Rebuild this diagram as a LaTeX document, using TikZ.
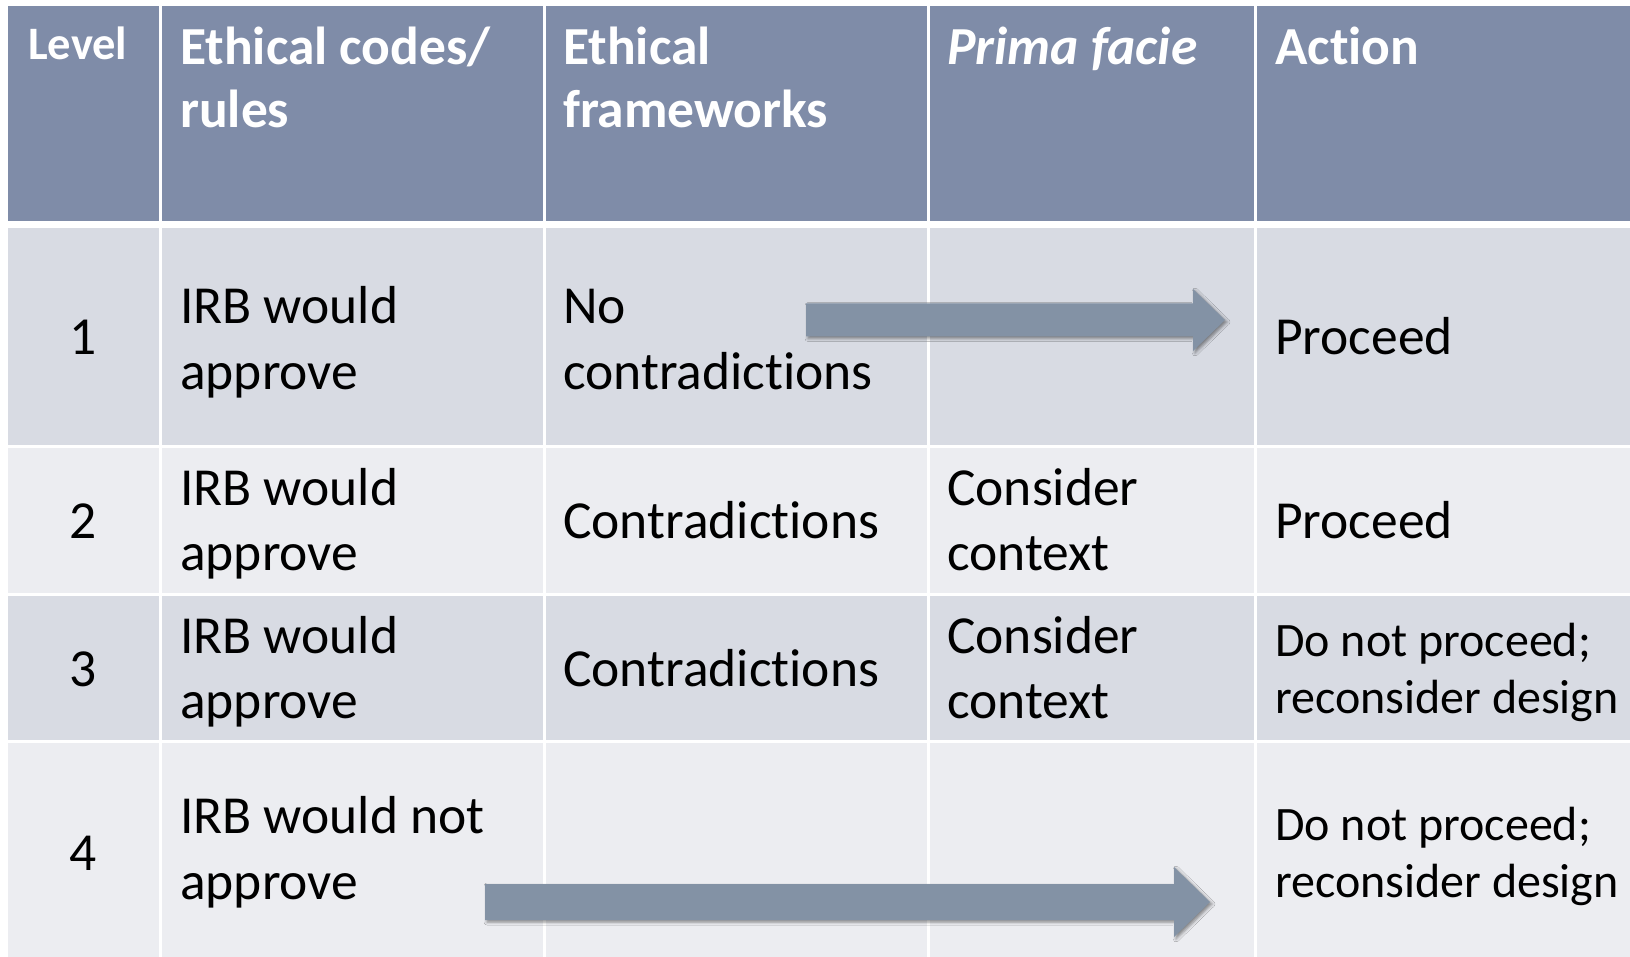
\documentclass[tikz,border=0pt]{standalone}
\usepackage{fontspec}
\setmainfont{Carlito}[Ligatures=NoCommon]
\usetikzlibrary{calc,shadows.blur}
\definecolor{hdr}{RGB}{127,140,168}
\definecolor{rowA}{RGB}{216,219,227}
\definecolor{rowB}{RGB}{236,237,241}
\definecolor{arr}{RGB}{131,146,165}
\tikzset{
  hcell/.style={fill=hdr},
  acell/.style={fill=rowA},
  bcell/.style={fill=rowB},
  htext/.style={inner sep=0pt,anchor=base west,align=left,text=white,font=\bfseries\fontsize{53.5}{63}\selectfont},
  ltext/.style={inner sep=0pt,anchor=base west,align=left,text=white,font=\bfseries\fontsize{46.5}{55}\selectfont},
  btext/.style={inner sep=0pt,anchor=base west,align=left,text=black,font=\fontsize{53.5}{65.5}\selectfont},
  ntext/.style={inner sep=0pt,anchor=base,text=black,font=\fontsize{53.5}{65.5}\selectfont},
  stext/.style={inner sep=0pt,anchor=base west,align=left,text=black,font=\fontsize{48}{57}\selectfont},
  blockarrow/.style={fill=arr,blur shadow={shadow xshift=2pt,shadow yshift=-2pt,shadow blur radius=3pt,shadow opacity=45}}
}
\begin{document}
\begin{tikzpicture}[x=1pt,y=-1pt]
\useasboundingbox (0,0) rectangle (1630,957);
\fill[white] (0,0) rectangle (1630,957);
% column fills per row
\foreach \xa/\xb in {7.5/159,162/543,546/927,930/1254,1257/1630}{
  \fill[hcell] (\xa,6.5) rectangle (\xb,221.5);
  \fill[acell] (\xa,228.5) rectangle (\xb,444.5);
  \fill[bcell] (\xa,447.5) rectangle (\xb,592.5);
  \fill[acell] (\xa,595.5) rectangle (\xb,739.5);
  \fill[bcell] (\xa,742.5) rectangle (\xb,957);
}
% header (base anchor = baseline of last line)
\node[ltext] (hL) at (28,60) {Level};
\node[htext] (h2) at (180,128) {Ethical codes/\\rules};
\node[htext] (h3) at (563,128) {Ethical\\frameworks};
\node[htext] (h4) at (947,65) {\itshape Prima facie};
\node[htext] (h5) at (1275,65) {Action};
% row 1
\node[ntext] (n1) at (83,355) {1};
\node[btext] (r1c2) at (180,389) {IRB would\\approve};
\node[btext] (r1c3) at (563,389) {No\\contradictions};
\node[btext] (r1c5) at (1275,355) {Proceed};
% row 2
\node[ntext] (n2) at (83,538) {2};
\node[btext] (r2c2) at (180,570.5) {IRB would\\approve};
\node[btext] (r2c3) at (563,538) {Contradictions};
\node[btext] (r2c4) at (947,570.5) {Consider\\context};
\node[btext] (r2c5) at (1275,538) {Proceed};
% row 3
\node[ntext] (n3) at (83,686) {3};
\node[btext] (r3c2) at (180,718.5) {IRB would\\approve};
\node[btext] (r3c3) at (563,686) {Contradictions};
\node[btext] (r3c4) at (947,718.5) {Consider\\context};
\node[stext] (r3c5) at (1275,713) {Do not proceed;\\reconsider design};
% row 4
\node[ntext] (n4) at (83,870) {4};
\node[btext] (r4c2) at (180,899) {IRB would not\\approve};
\node[stext] (r4c5) at (1275,897) {Do not proceed;\\reconsider design};
% arrows
\coordinate (a1s) at (806,320);
\coordinate (a1e) at (1225,320);
\coordinate (a2s) at (485,902);
\coordinate (a2e) at (1210,902);
\fill[blockarrow] ($(a1s)+(0,-16.5)$) -- ($(a1e)+(-32,-16.5)$) -- ($(a1e)+(-32,-31)$) -- (a1e)
  -- ($(a1e)+(-32,31)$) -- ($(a1e)+(-32,16.5)$) -- ($(a1s)+(0,16.5)$) -- cycle;
\fill[blockarrow] ($(a2s)+(0,-18)$) -- ($(a2e)+(-36,-18)$) -- ($(a2e)+(-36,-35)$) -- (a2e)
  -- ($(a2e)+(-36,35)$) -- ($(a2e)+(-36,18)$) -- ($(a2s)+(0,18)$) -- cycle;
\end{tikzpicture}
\end{document}
